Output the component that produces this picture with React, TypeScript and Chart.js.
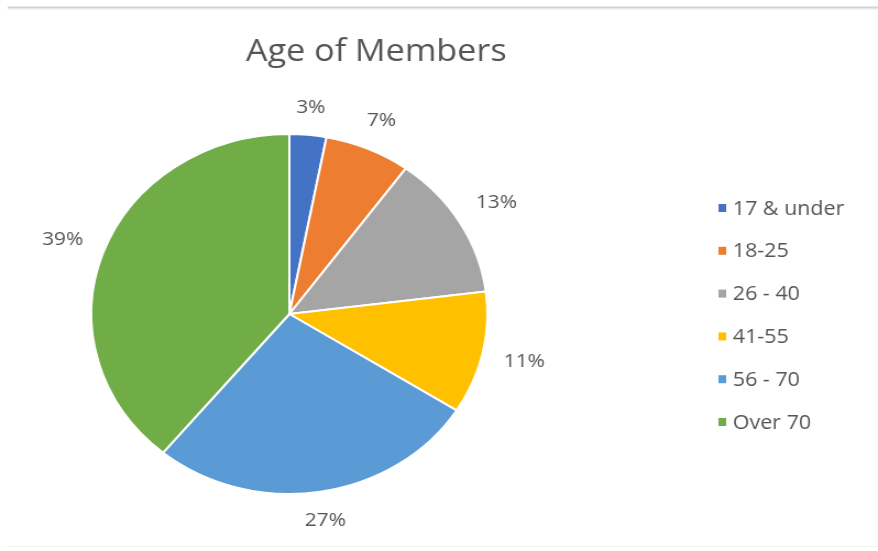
import React, { useEffect, useRef } from 'react';
import { Chart, registerables } from 'chart.js';

Chart.register(...registerables);

const categories = ['17 & under', '18-25', '26 - 40', '41-55', '56 - 70', 'Over 70'];
const shares = [3, 7, 13, 11, 27, 39];
const sliceColors = ['#4472C4', '#ED7D31', '#A5A5A5', '#FFC000', '#5B9BD5', '#70AD47'];
const chartTitle = 'Age of Members';

const FONT = '"Open Sans", Lato, sans-serif';
const TEXT = '#555555';
// drawing surface is 798 wide and shown stretched to 878 (as in the reference)
const DW = 798;
const DH = 551;

const decorPlugin = {
  id: 'decor',
  beforeDraw(chart: any) {
    const ctx = chart.ctx;
    ctx.save();
    ctx.fillStyle = '#d2d2d2';
    ctx.fillRect(7, 6.5, DW - 7, 2);
    ctx.fillStyle = '#f4f4f4';
    ctx.fillRect(7, 9, DW - 7, 1);
    ctx.fillRect(7, 546, DW - 7, 1);
    ctx.restore();
  },
  afterDraw(chart: any) {
    const ctx = chart.ctx;
    ctx.save();
    ctx.fillStyle = TEXT;
    // title
    ctx.font = `31px ${FONT}`;
    ctx.textAlign = 'center';
    ctx.textBaseline = 'alphabetic';
    ctx.fillText(chartTitle, 342, 61);

    // percentage labels
    const meta = chart.getDatasetMeta(0);
    const ds = chart.data.datasets[0].data as number[];
    const total = ds.reduce((a, b) => a + b, 0);
    ctx.font = `19px ${FONT}`;
    ctx.textBaseline = 'middle';
    ctx.textAlign = 'center';
    meta.data.forEach((arc: any, i: number) => {
      const p = arc.getProps(['x', 'y', 'startAngle', 'endAngle', 'outerRadius'], true);
      const mid = (p.startAngle + p.endAngle) / 2;
      const dx = Math.cos(mid);
      const dy = Math.sin(mid);
      const text = Math.round((ds[i] / total) * 100) + '%';
      const w = ctx.measureText(text).width;
      const h = 14;
      const d = p.outerRadius + 19 + (Math.abs(dx) * w) / 2 + (Math.abs(dy) * h) / 2;
      ctx.fillText(text, p.x + dx * d, p.y + dy * d);
    });

    // legend
    const labels = chart.data.labels as string[];
    const colors = chart.data.datasets[0].backgroundColor as string[];
    ctx.font = `19.5px ${FONT}`;
    ctx.textAlign = 'left';
    labels.forEach((lab, i) => {
      const cy = 208 + i * 42.8;
      ctx.fillStyle = colors[i];
      ctx.fillRect(653, cy - 4, 7, 8);
      ctx.fillStyle = TEXT;
      ctx.fillText(lab, 666, cy + 1);
    });
    ctx.restore();
  },
};

export default function App() {
  const ref = useRef<HTMLCanvasElement | null>(null);
  useEffect(() => {
    if (!ref.current) return;
    const chart = new Chart(ref.current, {
      type: 'pie',
      data: {
        labels: categories,
        datasets: [
          {
            data: shares,
            backgroundColor: sliceColors,
            borderColor: '#ffffff',
            borderWidth: 2,
          },
        ],
      },
      options: {
        animation: false,
        responsive: false,
        maintainAspectRatio: false,
        devicePixelRatio: 1,
        layout: { padding: { left: 82, right: DW - 444, top: 133, bottom: DH - 495 } },
        plugins: {
          legend: { display: false },
          title: { display: false },
          tooltip: { enabled: false },
        },
      },
      plugins: [decorPlugin],
    });
    return () => chart.destroy();
  }, []);
  return (
    <div style={{ position: 'fixed', left: 0, top: 0, width: 878, height: 551, background: '#fff' }}>
      <canvas
        ref={ref}
        width={DW}
        height={DH}
        style={{ width: '878px', height: '551px', display: 'block' }}
      />
    </div>
  );
}
